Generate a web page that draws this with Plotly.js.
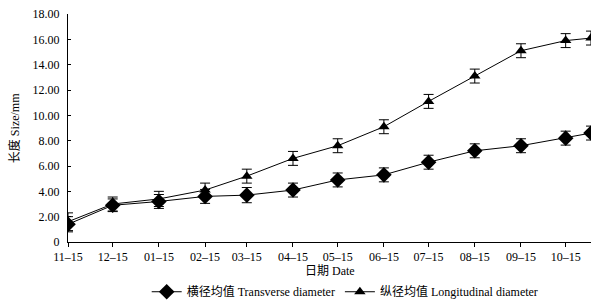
<!DOCTYPE html>
<html>
<head>
<meta charset="utf-8">
<script src="https://cdn.plot.ly/plotly-3.0.1.min.js"></script>
<style>html,body{margin:0;padding:0;background:#fff;}#chart{width:610px;height:304px;}</style>
</head>
<body>
<div id="chart"></div>
<script>
var dates = ["2012-11-15","2012-12-15","2013-01-15","2013-02-15","2013-03-15","2013-04-15","2013-05-15","2013-06-15","2013-07-15","2013-08-15","2013-09-15","2013-10-15","2013-11-01"];
var transverse = [1.4, 2.9, 3.2, 3.6, 3.7, 4.1, 4.9, 5.3, 6.3, 7.2, 7.6, 8.2, 8.6];
var transverseErr = [0.6, 0.5, 0.55, 0.55, 0.6, 0.55, 0.55, 0.55, 0.55, 0.55, 0.55, 0.55, 0.55];
var longitudinal = [1.6, 3.0, 3.4, 4.1, 5.2, 6.6, 7.6, 9.1, 11.1, 13.1, 15.1, 15.9, 16.1];
var longitudinalErr = [0.7, 0.55, 0.6, 0.55, 0.55, 0.55, 0.55, 0.55, 0.55, 0.55, 0.55, 0.55, 0.55];
var xTickVals = ["2012-11-15","2012-12-15","2013-01-15","2013-02-15","2013-03-15","2013-04-15","2013-05-15","2013-06-15","2013-07-15","2013-08-15","2013-09-15","2013-10-15"];
var xTickText = ["11\u201315","12\u201315","01\u201315","02\u201315","03\u201315","04\u201315","05\u201315","06\u201315","07\u201315","08\u201315","09\u201315","10\u201315"];
var yTickVals = [0,2,4,6,8,10,12,14,16,18];
var yTickText = ["0","2.00","4.00","6.00","8.00","10.00","12.00","14.00","16.00","18.00"];

var fontFam = "Liberation Serif, 'Noto Sans CJK SC', serif";
var fs = 12;

var traces = [
  {
    x: dates, y: transverse, name: "横径均值 Transverse diameter",
    type: "scatter", mode: "lines+markers",
    line: {color: "#000", width: 1},
    marker: {symbol: "diamond", size: 12, color: "#000"},
    error_y: {type: "data", array: transverseErr, visible: true, color: "#000", thickness: 1, width: 5}
  },
  {
    x: dates, y: longitudinal, name: "纵径均值 Longitudinal diameter",
    type: "scatter", mode: "lines+markers",
    line: {color: "#000", width: 1},
    marker: {symbol: "triangle-up", size: 10, color: "#000"},
    error_y: {type: "data", array: longitudinalErr, visible: true, color: "#000", thickness: 1, width: 5}
  }
];

var layout = {
  width: 610, height: 304,
  margin: {l: 68, r: 19, t: 14, b: 62},
  paper_bgcolor: "#fff", plot_bgcolor: "#fff",
  font: {family: fontFam, size: fs, color: "#000"},
  showlegend: true,
  legend: {orientation: "h", x: 0.53, xanchor: "center", xref: "paper",
           y: 0.088, yanchor: "top", yref: "container",
           font: {family: fontFam, size: fs, color: "#000"}, itemwidth: 30, tracegroupgap: 0},
  xaxis: {
    type: "date", automargin: false,
    range: ["2012-11-15", "2013-11-01"],
    tickmode: "array", tickvals: xTickVals, ticktext: xTickText,
    showline: true, linecolor: "#000", linewidth: 1,
    ticks: "outside", ticklen: 4, tickcolor: "#000",
    showgrid: false, zeroline: false,
    tickfont: {family: fontFam, size: fs, color: "#000"}
  },
  yaxis: {
    range: [0, 18], automargin: false,
    tickmode: "array", tickvals: yTickVals, ticktext: yTickText,
    showline: true, linecolor: "#000", linewidth: 1,
    ticks: "inside", ticklen: 3, tickcolor: "#000",
    ticklabelstandoff: 5,
    showgrid: false, zeroline: false,
    tickfont: {family: fontFam, size: fs, color: "#000"}
  },
  annotations: [
    {text: "长度 Size/mm", xref: "paper", yref: "paper", x: -0.103, y: 0.5,
     xanchor: "center", yanchor: "middle", textangle: -90, showarrow: false,
     font: {family: fontFam, size: fs, color: "#000"}},
    {text: "日期 Date", xref: "paper", yref: "paper", x: 0.5, y: -0.125,
     xanchor: "center", yanchor: "middle", showarrow: false,
     font: {family: fontFam, size: fs, color: "#000"}}
  ]
};

Plotly.newPlot("chart", traces, layout, {displayModeBar: false, staticPlot: true});
</script>
</body>
</html>
